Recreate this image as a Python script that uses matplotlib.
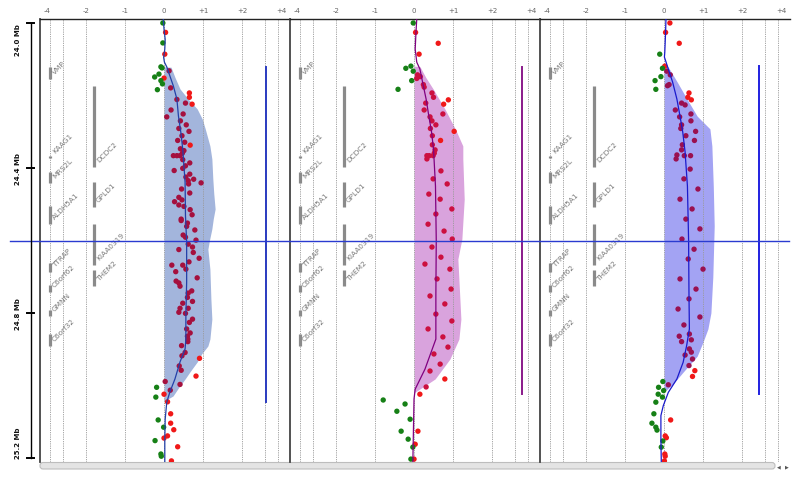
import numpy as np
import matplotlib
matplotlib.use("Agg")
import matplotlib.pyplot as plt
from matplotlib.patches import FancyBboxPatch

# ---------------- data ----------------
tick_vals = [-4, -2, -1, 0, 1, 2, 4]
tick_labels = ["-4", "-2", "-1", "0", "+1", "+2", "+4"]
grid_vals = [-3.8, -3, -2, -1, 0, 1, 2, 3, 3.8]
mb_ticks = [24.0, 24.4, 24.8, 25.2]
mb_labels = ["24.0 Mb", "24.4 Mb", "24.8 Mb", "25.2 Mb"]
marker_mb = 24.6

genes_col1 = ["VMP", "KAAG1", "MRS2L", "ALDH5A1", "TTRAP", "C6orf62", "GMNN", "C6orf32"]
genes_col1_start = [24.121, 24.367, 24.411, 24.505, 24.662, 24.723, 24.792, 24.858]
genes_col1_end = [24.154, 24.372, 24.441, 24.554, 24.687, 24.742, 24.808, 24.891]
genes_col2 = ["DCDC2", "GPLD1", "KIAA0319", "THEM2"]
genes_col2_start = [24.174, 24.439, 24.554, 24.681]
genes_col2_end = [24.397, 24.508, 24.668, 24.726]

# panel 1
p1_inner = [(24.132, 0.13), (24.179, 0.17), (24.211, 0.33), (24.221, 0.55), (24.240, 0.18),
            (24.251, 0.49), (24.259, 0.07), (24.270, 0.42), (24.281, 0.57), (24.291, 0.38),
            (24.299, 0.64), (24.311, 0.46), (24.324, 0.35), (24.329, 0.53), (24.347, 0.42),
            (24.366, 0.24), (24.366, 0.33), (24.366, 0.41), (24.359, 0.47), (24.352, 0.51),
            (24.377, 0.48), (24.386, 0.66), (24.394, 0.55), (24.407, 0.26), (24.401, 0.48),
            (24.417, 0.66), (24.425, 0.56), (24.435, 0.62), (24.431, 0.76), (24.441, 0.95),
            (24.444, 0.63), (24.458, 0.45), (24.469, 0.66), (24.481, 0.38), (24.488, 0.46),
            (24.493, 0.27), (24.502, 0.38), (24.506, 0.51), (24.515, 0.67), (24.529, 0.72),
            (24.541, 0.44), (24.545, 0.44), (24.552, 0.60), (24.561, 0.58), (24.571, 0.79),
            (24.585, 0.49), (24.591, 0.55), (24.599, 0.82), (24.610, 0.62), (24.618, 0.73),
            (24.625, 0.38), (24.633, 0.75), (24.649, 0.90), (24.659, 0.64), (24.668, 0.20),
            (24.668, 0.48), (24.679, 0.56), (24.686, 0.30), (24.703, 0.85), (24.712, 0.31),
            (24.717, 0.38), (24.726, 0.41), (24.739, 0.71), (24.745, 0.62), (24.757, 0.60),
            (24.768, 0.73), (24.773, 0.48), (24.787, 0.41), (24.787, 0.62), (24.798, 0.38),
            (24.801, 0.55), (24.817, 0.73), (24.826, 0.65), (24.844, 0.58), (24.855, 0.67),
            (24.864, 0.60), (24.872, 0.61), (24.879, 0.61), (24.890, 0.45), (24.909, 0.54),
            (24.918, 0.46), (24.946, 0.39), (24.958, 0.44), (24.989, 0.03), (24.997, 0.41),
            (25.013, 0.16)]
p1_red = [(24.026, 0.04), (24.086, 0.02), (24.152, 0.00), (24.193, 0.65), (24.205, 0.65),
          (24.224, 0.72), (24.337, 0.67), (24.925, 0.91), (24.974, 0.82), (25.024, 0.00),
          (25.045, 0.09), (25.078, 0.17), (25.104, 0.17), (25.122, 0.25), (25.139, 0.09),
          (25.145, 0.00), (25.169, 0.35), (25.208, 0.19)]
p1_green = [(24.000, -0.03), (24.055, -0.03), (24.121, -0.08), (24.124, -0.05), (24.149, -0.24),
            (24.141, -0.13), (24.159, -0.08), (24.168, -0.04), (24.184, -0.17), (25.005, -0.19),
            (25.032, -0.21), (25.095, -0.15), (25.115, -0.01), (25.152, -0.23), (25.189, -0.08),
            (25.195, -0.07)]
p1_line = [(23.989, -0.02), (24.017, 0.00), (24.045, 0.03), (24.072, 0.02), (24.095, -0.01),
           (24.108, 0.01), (24.121, 0.07), (24.146, 0.15), (24.174, 0.24), (24.210, 0.33),
           (24.257, 0.37), (24.301, 0.43), (24.348, 0.48), (24.439, 0.54), (24.532, 0.55),
           (24.604, 0.58), (24.715, 0.58), (24.808, 0.56), (24.872, 0.56), (24.899, 0.54),
           (24.935, 0.41), (24.982, 0.28), (25.018, 0.15), (25.046, 0.07), (25.093, 0.03),
           (25.148, 0.02), (25.211, 0.02)]
p1_fill = [(24.121, 0.0), (24.122, 0.18), (24.150, 0.28), (24.182, 0.41), (24.210, 0.62),
           (24.237, 0.85), (24.265, 0.98), (24.292, 1.04), (24.339, 1.13), (24.375, 1.17),
           (24.430, 1.19), (24.470, 1.21), (24.513, 1.24), (24.540, 1.20), (24.568, 1.17),
           (24.600, 1.12), (24.624, 1.09), (24.679, 1.13), (24.761, 1.15), (24.817, 1.17),
           (24.872, 1.13), (24.891, 1.09), (24.912, 0.97), (24.935, 0.85), (24.960, 0.68),
           (24.982, 0.54), (25.005, 0.38), (25.029, 0.23), (25.043, 0.0)]
p1_bar = (3.06, 24.121, 25.046)

# panel 2
p2_inner = [(24.143, 0.09), (24.148, 0.16), (24.153, 0.07), (24.170, 0.24), (24.177, 0.26),
            (24.193, 0.46), (24.205, 0.50), (24.221, 0.30), (24.240, 0.26), (24.251, 0.74),
            (24.259, 0.41), (24.270, 0.46), (24.281, 0.56), (24.291, 0.42), (24.311, 0.47),
            (24.336, 0.47), (24.350, 0.54), (24.366, 0.33), (24.366, 0.39), (24.366, 0.49),
            (24.359, 0.52), (24.375, 0.33), (24.408, 0.69), (24.430, 0.49), (24.444, 0.85),
            (24.472, 0.38), (24.486, 0.67), (24.513, 0.97), (24.527, 0.56), (24.555, 0.36),
            (24.574, 0.77), (24.596, 0.98), (24.618, 0.46), (24.646, 0.69), (24.665, 0.28),
            (24.679, 0.92), (24.706, 0.59), (24.734, 0.95), (24.753, 0.41), (24.775, 0.79),
            (24.803, 0.56), (24.822, 0.97), (24.844, 0.36), (24.866, 0.74), (24.894, 0.87),
            (24.913, 0.51), (24.941, 0.67), (24.960, 0.41), (25.004, 0.31)]
p2_red = [(24.026, 0.04), (24.056, 0.62), (24.086, 0.13), (24.212, 0.88), (24.224, 0.76),
          (24.299, 1.02), (24.324, 0.68), (24.982, 0.79), (25.024, 0.15), (25.126, 0.10),
          (25.162, 0.03), (25.203, 0.00)]
p2_green = [(24.000, -0.02), (24.119, -0.08), (24.125, -0.21), (24.133, -0.02), (24.159, -0.06),
            (24.183, -0.41), (25.040, -0.79), (25.051, -0.23), (25.071, -0.44), (25.093, -0.10),
            (25.126, -0.33), (25.148, -0.15), (25.170, -0.03), (25.203, -0.08)]
p2_line = [(23.989, 0.07), (24.026, 0.05), (24.072, 0.03), (24.108, 0.07), (24.127, 0.15),
           (24.174, 0.24), (24.210, 0.31), (24.257, 0.38), (24.301, 0.45), (24.348, 0.50),
           (24.450, 0.55), (24.600, 0.57), (24.750, 0.56), (24.872, 0.56), (24.955, 0.28),
           (25.010, 0.03), (25.037, 0.00), (25.211, -0.03)]
p2_fill = [(24.119, 0.0), (24.120, 0.15), (24.150, 0.30), (24.182, 0.49), (24.237, 0.79),
           (24.292, 1.04), (24.339, 1.19), (24.375, 1.19), (24.486, 1.22), (24.596, 1.17),
           (24.651, 1.09), (24.762, 1.13), (24.817, 1.15), (24.872, 1.11), (24.927, 0.92),
           (24.982, 0.54), (25.018, 0.03), (25.021, 0.0)]
p2_bar = (3.41, 24.121, 25.024)

# panel 3
p3_inner = [(24.133, 0.07), (24.143, 0.16), (24.173, 0.09), (24.170, 0.13), (24.221, 0.45),
            (24.226, 0.54), (24.240, 0.29), (24.251, 0.69), (24.259, 0.40), (24.270, 0.69),
            (24.281, 0.45), (24.291, 0.43), (24.299, 0.81), (24.311, 0.56), (24.324, 0.78),
            (24.336, 0.47), (24.350, 0.45), (24.364, 0.33), (24.366, 0.52), (24.366, 0.68),
            (24.375, 0.31), (24.403, 0.67), (24.430, 0.51), (24.458, 0.87), (24.486, 0.41),
            (24.513, 0.72), (24.541, 0.56), (24.568, 0.92), (24.596, 0.46), (24.624, 0.77),
            (24.651, 0.62), (24.679, 1.00), (24.706, 0.41), (24.734, 0.82), (24.761, 0.64),
            (24.789, 0.36), (24.811, 0.92), (24.833, 0.51), (24.864, 0.39), (24.858, 0.65),
            (24.874, 0.70), (24.879, 0.45), (24.899, 0.65), (24.908, 0.70), (24.916, 0.54),
            (24.927, 0.73), (24.945, 0.64), (24.998, 0.11)]
p3_red = [(24.000, 0.15), (24.026, 0.04), (24.056, 0.39), (24.119, 0.02), (24.193, 0.64),
          (24.205, 0.61), (24.212, 0.70), (24.959, 0.79), (24.975, 0.73), (25.095, 0.17),
          (25.139, 0.03), (25.144, 0.06), (25.189, 0.02), (25.195, 0.03), (25.208, 0.01)]
p3_green = [(24.086, -0.11), (24.125, -0.04), (24.148, -0.08), (24.159, -0.23), (24.183, -0.21),
            (24.989, -0.03), (25.005, -0.14), (25.014, -0.01), (25.024, -0.15), (25.032, -0.04),
            (25.046, -0.21), (25.078, -0.26), (25.104, -0.31), (25.115, -0.21), (25.123, -0.18),
            (25.153, -0.03), (25.170, -0.07)]
p3_line = [(23.989, 0.05), (24.026, 0.04), (24.080, 0.02), (24.094, 0.01), (24.127, 0.11),
           (24.163, 0.22), (24.210, 0.33), (24.257, 0.41), (24.301, 0.48), (24.356, 0.54),
           (24.450, 0.60), (24.600, 0.63), (24.750, 0.64), (24.844, 0.65), (24.890, 0.58),
           (24.936, 0.49), (24.982, 0.33), (25.019, 0.11), (25.056, -0.02), (25.083, -0.08),
           (25.148, -0.08), (25.211, -0.07)]
p3_fill = [(24.119, 0.0), (24.120, 0.10), (24.165, 0.35), (24.210, 0.59), (24.257, 0.85),
           (24.292, 1.13), (24.339, 1.17), (24.450, 1.20), (24.560, 1.22), (24.700, 1.19),
           (24.800, 1.15), (24.844, 1.09), (24.880, 1.00), (24.919, 0.85), (24.963, 0.49),
           (24.996, 0.23), (25.018, 0.0)]
p3_bar = (2.71, 24.119, 25.024)

panels = [
    dict(inner=p1_inner, red=p1_red, green=p1_green, line=p1_line, fill=p1_fill, bar=p1_bar,
         fillc="#a3b5dc", linec="#2340a8", barc="#2a3bc0", innerc="#a5103e"),
    dict(inner=p2_inner, red=p2_red, green=p2_green, line=p2_line, fill=p2_fill, bar=p2_bar,
         fillc="#d9a3dd", linec="#800080", barc="#8a1a8a", innerc="#cc1040"),
    dict(inner=p3_inner, red=p3_red, green=p3_green, line=p3_line, fill=p3_fill, bar=p3_bar,
         fillc="#a3a3f3", linec="#1a1acc", barc="#2020e0", innerc="#9a1050"),
]

# ---------------- scale ----------------
def fwd(v):
    v = np.asarray(v, float)
    a = np.abs(v)
    return np.where(a <= 1, v, np.sign(v) * (1 + np.log2(np.maximum(a, 1))))


def inv(u):
    u = np.asarray(u, float)
    a = np.abs(u)
    return np.where(a <= 1, u, np.sign(u) * np.exp2(np.maximum(a, 1) - 1))


W, H = 800, 481
YTOP, YBOT = 23.989, 25.211
fig = plt.figure(figsize=(W / 100, H / 100), dpi=100)
fig.patch.set_facecolor("white")

bottom = 18 / H
height = 443 / H

# background axis for scrollbar (pixel coords)
axbg = fig.add_axes([0, 0, 1, 1], zorder=0)
axbg.set_xlim(0, W)
axbg.set_ylim(H, 0)
axbg.axis("off")
axbg.add_patch(FancyBboxPatch((40, 463.5), 735, 6.5, boxstyle="round,pad=0,rounding_size=3",
                              facecolor="#e4e4e4", edgecolor="#bdbdbd", lw=0.8))
axbg.text(779, 467, "◀", fontsize=3.5, color="#555555", ha="center", va="center")
axbg.text(787, 467, "▶", fontsize=3.5, color="#555555", ha="center", va="center")

gene_color = "#8a8a8a"
label_color = "#7a7a7a"

for k, p in enumerate(panels):
    ax = fig.add_axes([(40 + 250 * k) / W, bottom, 250 / W, height], zorder=1)
    ax.set_xscale("function", functions=(fwd, inv))
    ax.set_xlim(-4.53, 4.69)
    ax.set_ylim(YBOT, YTOP)
    ax.patch.set_alpha(0)
    for s in ["right", "bottom"]:
        ax.spines[s].set_visible(False)
    ax.spines["top"].set_color("#222222")
    ax.spines["top"].set_linewidth(1.0)
    ax.spines["left"].set_color("#444444")
    ax.spines["left"].set_linewidth(1.3)
    ax.xaxis.set_ticks_position("top")
    ax.set_xticks(tick_vals)
    ax.set_xticklabels(tick_labels)
    ax.xaxis.set_minor_locator(matplotlib.ticker.NullLocator())
    ax.tick_params(axis="x", length=0, pad=4.5, labelsize=5, labelcolor="#666666")
    ax.set_yticks([])

    # fill
    fmb = [t[0] for t in p["fill"]]
    fv = [t[1] for t in p["fill"]]
    ax.fill_betweenx(fmb, 0, fv, color=p["fillc"], lw=0, zorder=1)

    # grid
    for g in grid_vals:
        ax.axvline(g, color="#9a9a9a", lw=0.6, ls=(0, (1.5, 1.2)), zorder=1.5)

    # genes
    tr = ax.get_yaxis_transform()
    for xs, names, st, en in [(0.04, genes_col1, genes_col1_start, genes_col1_end),
                              (0.216, genes_col2, genes_col2_start, genes_col2_end)]:
        for n, s0, e0 in zip(names, st, en):
            ax.plot([xs, xs], [s0, e0], color=gene_color, lw=2.3, solid_capstyle="butt",
                    transform=tr, zorder=2)
            ax.text(xs + 0.022, e0 - 0.012, n, rotation=45, rotation_mode="anchor",
                    ha="left", va="bottom", fontsize=5.3, color=label_color, transform=tr, zorder=2)

    # bar
    bv, b0, b1 = p["bar"]
    ax.plot([bv, bv], [b0, b1], color=p["barc"], lw=1.4, zorder=3)

    # points
    for key, col in [("inner", p["innerc"]), ("red", "#f01818"), ("green", "#168016")]:
        mbs = [t[0] for t in p[key]]
        vs = [t[1] for t in p[key]]
        ax.scatter(vs, mbs, s=15, c=col, edgecolors="none", zorder=4)

    # line
    lmb = [t[0] for t in p["line"]]
    lv = [t[1] for t in p["line"]]
    ax.plot(lv, lmb, color=p["linec"], lw=0.9, zorder=5)

# overlay (pixel x, Mb y)
axo = fig.add_axes([0, bottom, 1, height], zorder=2)
axo.set_xlim(0, W)
axo.set_ylim(YBOT, YTOP)
axo.axis("off")
axo.patch.set_alpha(0)
axo.plot([10, 789], [marker_mb, marker_mb], color="#2a3bd0", lw=1.0)
axo.plot([31, 31], [mb_ticks[0], mb_ticks[-1]], color="black", lw=1.0)
for i, (m, lab) in enumerate(zip(mb_ticks, mb_labels)):
    axo.plot([27, 34], [m, m], color="black", lw=1.4)
    va = "top" if i == 0 else ("bottom" if i == len(mb_ticks) - 1 else "center")
    axo.text(18.5, m, lab, rotation=90, ha="center", va=va, fontsize=5, fontweight="bold",
             color="#111111")

fig.savefig("out.png", dpi=100, facecolor="white")
